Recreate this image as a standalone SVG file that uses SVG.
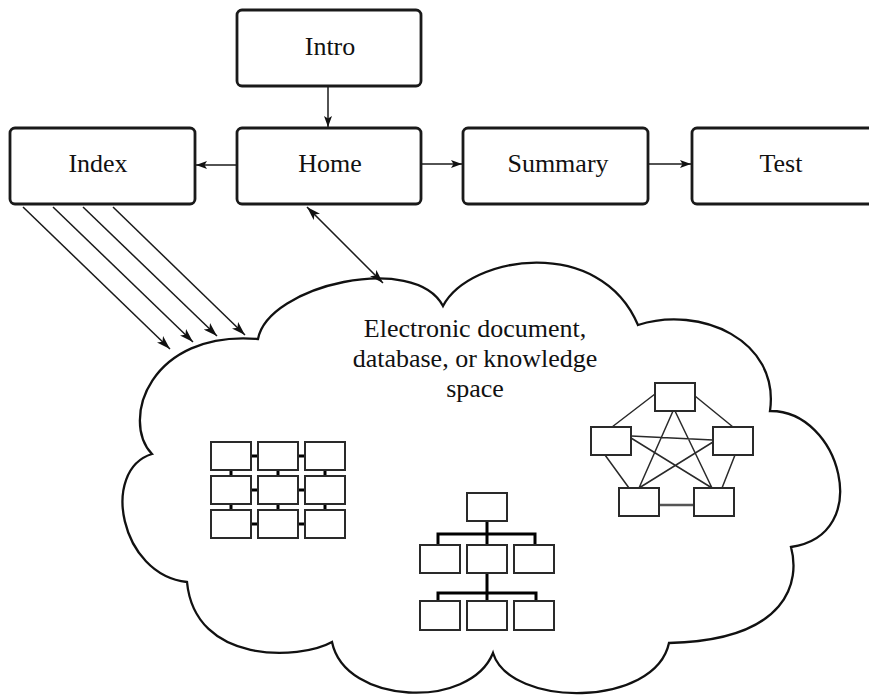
<svg xmlns="http://www.w3.org/2000/svg" width="869" height="696" viewBox="0 0 869 696">
<style>
.box{fill:#fff;stroke:#1a1a1a;stroke-width:2.8}
.lbl{font-family:"Liberation Serif","Times New Roman",serif;font-size:26px;fill:#111;text-anchor:middle}
.conn{stroke:#1a1a1a;stroke-width:1.5;fill:none}
.cloud{fill:#fff;stroke:#111;stroke-width:2.3;stroke-linejoin:miter}
.cell{fill:#fff;stroke:#2a2a2a;stroke-width:2}
.thick{stroke:#000;stroke-width:3;fill:none}
.net{stroke:#2a2a2a;stroke-width:1.5;fill:none}
</style>
<defs>
<marker id="ah" viewBox="0 0 14 9" refX="14" refY="4.5" markerWidth="14" markerHeight="9" orient="auto-start-reverse" markerUnits="userSpaceOnUse"><path d="M0,0 L14,4.5 L0,9 L3.5,4.5 Z" fill="#111"/></marker>
<marker id="ahs" viewBox="0 0 11 8" refX="11" refY="4" markerWidth="11" markerHeight="8" orient="auto-start-reverse" markerUnits="userSpaceOnUse"><path d="M0,0 L11,4 L0,8 L2.5,4 Z" fill="#111"/></marker>
</defs>

<g id="cloud">
<path class="cloud" d="M258,339 C268,285 415,252 443,306 C470,255 600,235 638,325 C700,305 780,340 770,411 C840,410 875,535 791,547 C800,580 790,640 669,643 C655,708 510,708 493,653 C470,710 345,705 332,642 C300,660 195,665 187,582 C120,575 100,470 152,454 C120,420 150,330 258,339 Z"/>
<text class="lbl" x="475" y="337">Electronic document,</text>
<text class="lbl" x="475" y="367">database, or knowledge</text>
<text class="lbl" x="475" y="397">space</text>
</g>

<g id="intro"><rect class="box" x="237" y="10" width="184" height="76" rx="5"/><text class="lbl" x="330" y="55">Intro</text></g>
<g id="home"><rect class="box" x="237" y="128" width="184" height="76" rx="5"/><text class="lbl" x="330" y="172">Home</text></g>
<g id="index"><rect class="box" x="10" y="128" width="185" height="76" rx="5"/><text class="lbl" x="98" y="172">Index</text></g>
<g id="summary"><rect class="box" x="463" y="128" width="185" height="76" rx="5"/><text class="lbl" x="558" y="172">Summary</text></g>
<g id="test"><rect class="box" x="692" y="128" width="185" height="76" rx="5"/><text class="lbl" x="781" y="172">Test</text></g>

<g id="connectors">
<line class="conn" x1="328" y1="87" x2="328" y2="127" marker-end="url(#ahs)"/>
<line class="conn" x1="237" y1="165" x2="196" y2="165" marker-end="url(#ahs)"/>
<line class="conn" x1="422" y1="164" x2="462" y2="164" marker-end="url(#ahs)"/>
<line class="conn" x1="649" y1="164" x2="691" y2="164" marker-end="url(#ahs)"/>
<line class="conn" x1="307" y1="207" x2="383" y2="283" marker-start="url(#ah)" marker-end="url(#ah)"/>
<line class="conn" x1="23" y1="207" x2="170" y2="349" marker-end="url(#ah)"/>
<line class="conn" x1="53" y1="207" x2="193" y2="342" marker-end="url(#ah)"/>
<line class="conn" x1="83" y1="207" x2="217" y2="336" marker-end="url(#ah)"/>
<line class="conn" x1="113" y1="207" x2="245" y2="335" marker-end="url(#ah)"/>
</g>

<g id="grid">
<path class="thick" d="M251,456 H258 M298,456 H305 M251,490 H258 M298,490 H305 M251,524 H258 M298,524 H305 M231,470 V476 M278,470 V476 M325,470 V476 M231,504 V510 M278,504 V510 M325,504 V510"/>
<rect class="cell" x="211" y="442" width="40" height="28"/><rect class="cell" x="258" y="442" width="40" height="28"/><rect class="cell" x="305" y="442" width="40" height="28"/>
<rect class="cell" x="211" y="476" width="40" height="28"/><rect class="cell" x="258" y="476" width="40" height="28"/><rect class="cell" x="305" y="476" width="40" height="28"/>
<rect class="cell" x="211" y="510" width="40" height="28"/><rect class="cell" x="258" y="510" width="40" height="28"/><rect class="cell" x="305" y="510" width="40" height="28"/>
</g>

<g id="tree">
<path class="thick" d="M487,521 V534 M438,545 V534 H535 V545 M487,534 V545 M487,573 V593 M438,601 V593 H536 V601 M487,593 V601"/>
<rect class="cell" x="467" y="493" width="40" height="28"/>
<rect class="cell" x="420" y="545" width="40" height="28"/><rect class="cell" x="467" y="545" width="40" height="28"/><rect class="cell" x="514" y="545" width="40" height="28"/>
<rect class="cell" x="420" y="601" width="40" height="29"/><rect class="cell" x="467" y="601" width="40" height="29"/><rect class="cell" x="514" y="601" width="40" height="29"/>
</g>

<g id="network">
<path class="net" d="M655,394 L612,427 M695,396 L733,427 M605,455 L629,488 M735,455 L722,488 M673,411 L639,488 M675,411 L712,488 M631,436 L713,440 M631,438 L712,488 M713,442 L639,488"/>
<line x1="659" y1="505" x2="694" y2="505" stroke="#555" stroke-width="2.5"/>
<rect class="cell" x="655" y="383" width="40" height="28"/>
<rect class="cell" x="591" y="427" width="40" height="28"/>
<rect class="cell" x="713" y="427" width="40" height="28"/>
<rect class="cell" x="619" y="488" width="40" height="28"/>
<rect class="cell" x="694" y="488" width="40" height="28"/>
</g>
</svg>
